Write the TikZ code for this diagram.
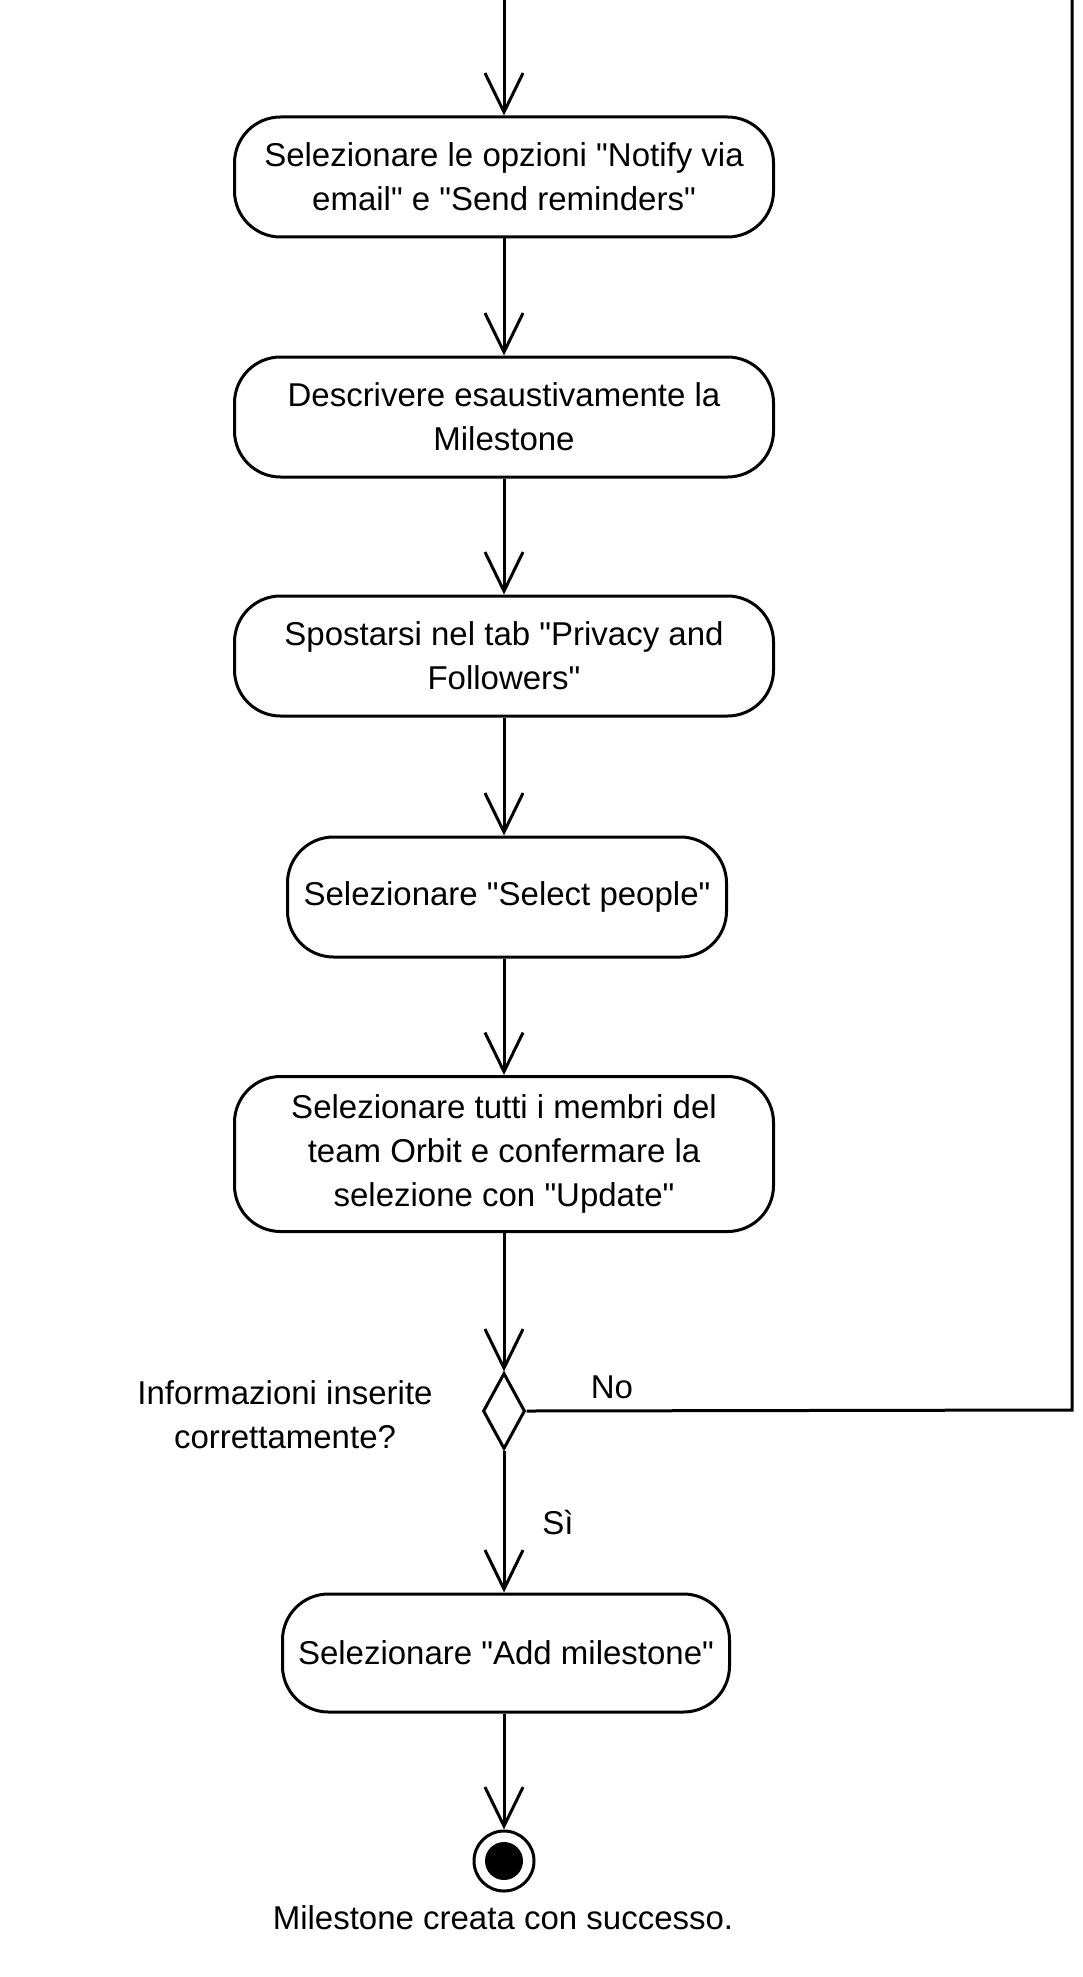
\documentclass[tikz,border=0pt]{standalone}
\usepackage{fontspec}
\setmainfont{Liberation Sans}[Ligatures=TeXOff]
\usetikzlibrary{arrows.meta,shapes.geometric}
\begin{document}
\begin{tikzpicture}[x=1pt,y=-1pt,
  every path/.style={line width=3pt},
  >={Straight Barb[length=39pt,width=38pt]},
  actbox/.style={draw,line width=3pt,rounded corners=46pt,minimum height=120pt,
     align=center,inner sep=0pt,font=\fontsize{33pt}{44pt}\selectfont},
  lbl/.style={align=center,inner sep=0pt,font=\fontsize{33pt}{44pt}\selectfont},
  flow/.style={draw,->,line width=3pt}]
\useasboundingbox (0,0) rectangle (1083,1977);
\coordinate (top) at (504,0);
\node[actbox,minimum width=539pt] (b1) at (504,177) {Selezionare le opzioni "Notify via\\email" e "Send reminders"};
\node[actbox,minimum width=539pt] (b2) at (504,417) {Descrivere esaustivamente la\\Milestone};
\node[actbox,minimum width=539pt] (b3) at (504,656) {Spostarsi nel tab "Privacy and\\Followers"};
\node[actbox,minimum width=439pt] (b4) at (507,897) {Selezionare "Select people"};
\node[actbox,minimum width=539pt,minimum height=155pt] (b5) at (504,1154) {Selezionare tutti i membri del\\team Orbit e confermare la\\selezione con "Update"};
\node[diamond,draw,line width=3pt,minimum width=42pt,minimum height=76pt,inner sep=0pt] (d) at (504,1411) {};
\node[actbox,minimum width=447pt,minimum height=118pt] (b6) at (506,1653) {Selezionare "Add milestone"};
\node[circle,draw,line width=3pt,minimum size=60pt,inner sep=0pt] (end) at (504,1861) {};
\fill (end.center) circle (19pt);
\coordinate (rc) at (1072,1410);
\coordinate (rt) at (1072,0);

\draw[flow] (top) -- (b1.north);
\draw[flow] (b1.south) -- (b2.north);
\draw[flow] (b2.south) -- (b3.north);
\draw[flow] (b3.south) -- (b4.north -| b3.south);
\draw[flow] (b4.south -| b3.south) -- (b5.north);
\draw[flow] (b5.south) -- (d.north);
\draw[flow] (d.south) -- (b6.north -| d.south);
\draw[flow] (b6.south -| d.south) -- (end.north);
\draw (d.east) -- (rc) -- (rt);

\node[lbl] (no) at (612,1387) {No};
\node[lbl] (si) at (558,1522) {Sì};
\node[lbl] (q) at (285,1415) {Informazioni inserite\\correttamente?};
\node[lbl] (fin) at (503,1918) {Milestone creata con successo.};
\end{tikzpicture}
\end{document}
